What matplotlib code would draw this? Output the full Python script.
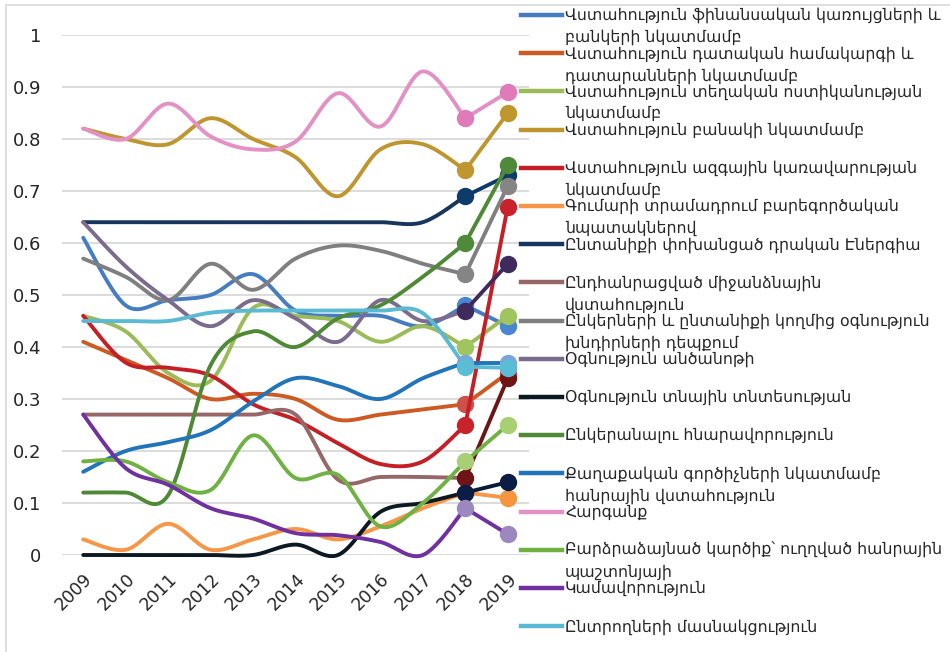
import numpy as np
import matplotlib.pyplot as plt
from matplotlib.lines import Line2D

years = list(range(2009, 2020))

labels = [
    "Վստահություն ֆինանսական կառույցների և\nբանկերի նկատմամբ",
    "Վստահություն դատական համակարգի և\nդատարանների նկատմամբ",
    "Վստահություն տեղական ոստիկանության\nնկատմամբ",
    "Վստահություն բանակի նկատմամբ",
    "Վստահություն ազգային կառավարության\nնկատմամբ",
    "Գումարի տրամադրում բարեգործական\nնպատակներով",
    "Ընտանիքի փոխանցած դրական Էներգիա",
    "Ընդհանրացված միջանձնային\nվստահություն",
    "Ընկերների և ընտանիքի կողմից օգնություն\nխնդիրների դեպքում",
    "Օգնություն անծանոթի",
    "Օգնություն տնային տնտեսության",
    "Ընկերանալու հնարավորություն",
    "Քաղաքական գործիչների նկատմամբ\nհանրային վստահություն",
    "Հարգանք",
    "Բարձրաձայնած կարծիք՝ ուղղված հանրային\nպաշտոնյայի",
    "Կամավորություն",
    "Ընտրողների մասնակցություն",
]

fin_banks = [0.61, 0.48, 0.49, 0.50, 0.54, 0.47, 0.46, 0.46, 0.44, 0.48, 0.44]
courts = [0.41, 0.375, 0.34, 0.30, 0.31, 0.30, 0.26, 0.27, 0.28, 0.29, 0.35]
police = [0.46, 0.43, 0.35, 0.335, 0.475, 0.46, 0.45, 0.41, 0.44, 0.40, 0.46]
army = [0.82, 0.80, 0.79, 0.84, 0.80, 0.765, 0.69, 0.78, 0.79, 0.74, 0.85]
government = [0.46, 0.37, 0.36, 0.345, 0.29, 0.26, 0.215, 0.175, 0.18, 0.25, 0.67]
donations = [0.03, 0.01, 0.06, 0.01, 0.03, 0.05, 0.03, 0.055, 0.09, 0.12, 0.11]
family_energy = [0.64, 0.64, 0.64, 0.64, 0.64, 0.64, 0.64, 0.64, 0.64, 0.69, 0.73]
general_trust = [0.27, 0.27, 0.27, 0.27, 0.27, 0.27, 0.145, 0.15, 0.15, 0.148, 0.34]
friends_help = [0.57, 0.535, 0.49, 0.56, 0.51, 0.57, 0.595, 0.585, 0.56, 0.54, 0.71]
stranger_help = [0.64, 0.555, 0.49, 0.44, 0.49, 0.455, 0.41, 0.49, 0.45, 0.47, 0.56]
household_help = [0.0, 0.0, 0.0, 0.0, 0.0, 0.02, 0.0, 0.083, 0.10, 0.12, 0.14]
making_friends = [0.12, 0.12, 0.115, 0.365, 0.43, 0.40, 0.455, 0.48, 0.535, 0.60, 0.75]
politicians = [0.16, 0.20, 0.217, 0.24, 0.295, 0.34, 0.325, 0.30, 0.34, 0.37, 0.37]
respect = [0.82, 0.80, 0.868, 0.805, 0.78, 0.795, 0.888, 0.824, 0.93, 0.84, 0.89]
voiced_opinion = [0.18, 0.18, 0.14, 0.125, 0.23, 0.148, 0.154, 0.055, 0.10, 0.18, 0.25]
volunteering = [0.27, 0.167, 0.135, 0.09, 0.07, 0.042, 0.038, 0.025, 0.0, 0.09, 0.04]
voter_turnout = [0.45, 0.45, 0.45, 0.466, 0.47, 0.47, 0.47, 0.47, 0.465, 0.362, 0.36]

series = [fin_banks, courts, police, army, government, donations, family_energy,
          general_trust, friends_help, stranger_help, household_help, making_friends,
          politicians, respect, voiced_opinion, volunteering, voter_turnout]

colors = ['#467DC2', '#CC5A22', '#9BBB59', '#BF952D', '#C51F26', '#F79646', '#17365D',
          '#976666', '#7F7F7F', '#7B6B8D', '#0C1822', '#4E8A36', '#2173BA', '#E390C5',
          '#6FB142', '#7030A0', '#5AB9D3']
end_colors = ['#467DC2', '#CC5A22', '#9BBB59', '#BF952D', '#C51F26', '#F79646', '#0E3C6A',
              '#6B1616', '#7F7F7F', '#3E2A5C', '#0B1A35', '#4E8A36', '#2173BA', '#E390C5',
              '#6FB142', '#7030A0', '#5AB9D3']
marker_colors = ['#4A86D0', '#CF5048', '#A0C45E', '#C0962E', '#C8232A', '#F7953E', '#0E3C6A',
                 '#6E1414', '#858585', '#3E2A5C', '#0B1D45', '#4E8A3A', '#7AA6DA', '#E07AB8',
                 '#A8CF74', '#9C87BF', '#5BBCD6']


def smooth(x, y, n=30):
    # excel-like bezier smoothing
    p = np.column_stack([x, y]).astype(float)
    out = []
    for i in range(len(p) - 1):
        p0 = p[i - 1] if i > 0 else p[i]
        p1, p2 = p[i], p[i + 1]
        p3 = p[i + 2] if i + 2 < len(p) else p[i + 1]
        c1 = p1 + (p2 - p0) / 6
        c2 = p2 - (p3 - p1) / 6
        t = np.linspace(0, 1, n)[:, None]
        b = (1 - t) ** 3 * p1 + 3 * (1 - t) ** 2 * t * c1 + 3 * (1 - t) * t ** 2 * c2 + t ** 3 * p2
        out.append(b if i == 0 else b[1:])
    out = np.vstack(out)
    return out[:, 0], out[:, 1]


W, H = 950, 652
fig = plt.figure(figsize=(W / 100, H / 100), dpi=100)
ax = fig.add_axes([62 / W, 97 / H, 467 / W, 520 / H])

for vals, c in zip(series, colors):
    xs, ys = smooth(years[:10], vals[:10])
    ax.plot(xs, ys, color=c, lw=2.8, solid_capstyle='round', clip_on=False)

for vals, c, mc in zip(series, end_colors, marker_colors):
    ax.plot(years[9:], vals[9:], color=c, lw=2.8, marker='o', ms=11.5,
            mfc=mc, mec=mc, clip_on=False)

ax.set_xlim(2008.5, 2019.5)
ax.set_ylim(0, 1)
yt = np.round(np.arange(0, 1.01, 0.1), 1)
ax.set_yticks(yt)
ax.set_yticklabels(['%g' % v for v in yt], fontsize=13, color='#262626')
ax.set_xticks(years)
ax.set_xticklabels([str(y) for y in years], fontsize=12.5, color='#262626',
                   rotation=45, ha='right', va='top', rotation_mode='anchor')
ax.tick_params(length=0)
ax.tick_params(axis='y', pad=15)
ax.tick_params(axis='x', pad=11)
ax.yaxis.grid(True, color='#D9D9D9', lw=1.3)
ax.set_axisbelow(True)
for s in ax.spines.values():
    s.set_visible(False)

# legend drawn by hand so the handle sits on the first text line
for i, (lab, c) in enumerate(zip(labels, colors)):
    yc = 15 + 38.2 * i
    fig.add_artist(Line2D([521 / W, 562 / W], [1 - yc / H, 1 - yc / H], color=c, lw=3.2,
                          transform=fig.transFigure))
    for j, line in enumerate(lab.split('\n')):
        fig.text(565 / W, 1 - (yc + 5 + 22 * j) / H, line, fontsize=11.3,
                 color='#262626', va='baseline', ha='left')

# chart border
fig.add_artist(Line2D([6 / W, 1], [1 - 5 / H, 1 - 5 / H], color='#D9D9D9', lw=1.2,
                      transform=fig.transFigure))
fig.add_artist(Line2D([6 / W, 6 / W], [0, 1 - 5 / H], color='#D9D9D9', lw=1.2,
                      transform=fig.transFigure))

fig.savefig('out.png', dpi=100)
